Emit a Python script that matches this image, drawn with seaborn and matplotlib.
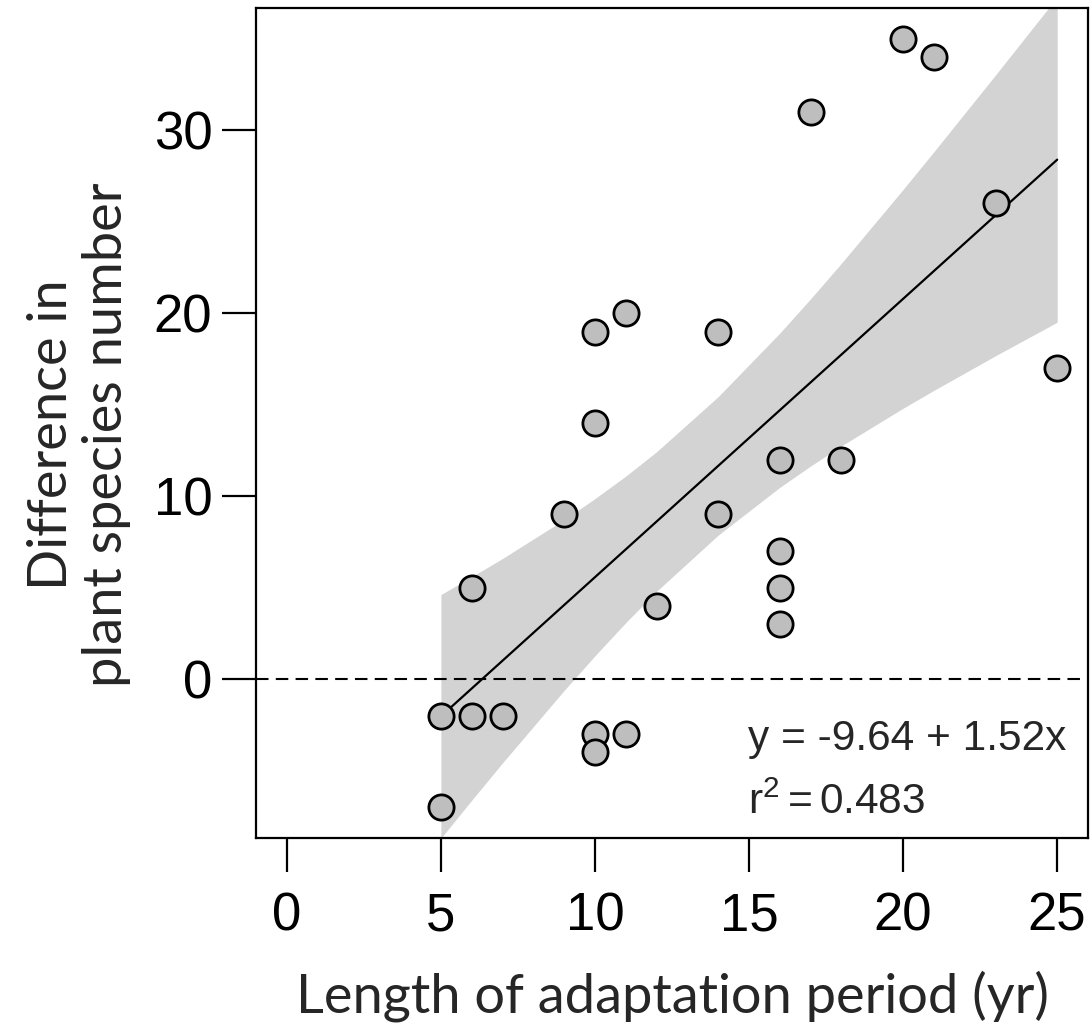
import matplotlib
matplotlib.use('Agg')
import matplotlib.pyplot as plt
import numpy as np
import pandas as pd
import seaborn as sns

# adaptation period (yr) and difference in plant species number
period = [5, 5, 6, 6, 7, 9, 10, 10, 10, 10, 11, 11, 12,
          14, 14, 16, 16, 16, 16, 17, 18, 20, 21, 23, 25]
diff = [-2, -7, 5, -2, -2, 9, 19, 14, -3, -4, 20, -3, 4,
        19, 9, 12, 7, 5, 3, 31, 12, 35, 34, 26, 17]
x_ticks = [0, 5, 10, 15, 20, 25]
y_ticks = [0, 10, 20, 30]

df = pd.DataFrame({'period': period, 'diff': diff})

# analytic 95% confidence band of the linear fit, evaluated at the observed x values
x = np.array(period, float)
y = np.array(diff, float)
n = len(x)
slope, intercept = np.polyfit(x, y, 1)
resid = y - (intercept + slope * x)
s = np.sqrt(np.sum(resid ** 2) / (n - 2))
sxx = np.sum((x - x.mean()) ** 2)
xg = np.unique(x)
fit = intercept + slope * xg
se = s * np.sqrt(1 / n + (xg - x.mean()) ** 2 / sxx)
t975 = 2.0687  # t quantile, 23 df

sns.set_style('white')
plt.rcParams['font.family'] = ['Liberation Sans', 'DejaVu Sans']
plt.rcParams['mathtext.fontset'] = 'custom'
plt.rcParams['mathtext.rm'] = 'Liberation Sans'
plt.rcParams['mathtext.it'] = 'Liberation Sans'

fig = plt.figure(figsize=(10.91, 10.31), dpi=100)
ax = fig.add_axes([256 / 1091, 1 - 838 / 1031, 832 / 1091, 830 / 1031])

ax.fill_between(xg, fit - t975 * se, fit + t975 * se, color='#d3d3d3', linewidth=0, zorder=0.5)
ax.axhline(0, color='black', linestyle=(0, (6, 3.5)), linewidth=1.5, zorder=1)

sns.regplot(x='period', y='diff', data=df, ax=ax, ci=None,
            scatter=False, truncate=True,
            line_kws={'color': 'black', 'linewidth': 1.6, 'zorder': 2})

sns.scatterplot(x='period', y='diff', data=df, ax=ax, s=330, color='#bebebe',
                edgecolor='black', linewidth=2, zorder=3, legend=False)

ax.set_xlim(-1, 26)
ax.set_ylim(-8.68, 36.68)
ax.set_xticks(x_ticks)
ax.set_yticks(y_ticks)
ax.tick_params(axis='both', direction='out', length=24.5, width=1.6,
               labelsize=38, color='black', labelcolor='black')
ax.tick_params(axis='x', pad=14)
ax.tick_params(axis='y', pad=7)
ax.tick_params(bottom=True, left=True)
for sp in ax.spines.values():
    sp.set_visible(True)
    sp.set_color('black')
    sp.set_linewidth(1.6)

ax.set_xlabel('Length of adaptation period (yr)', fontsize=39, family=['Lato', 'DejaVu Sans'],
              labelpad=21)
ax.set_ylabel('Difference in\nplant species number', fontsize=39, family=['Lato', 'DejaVu Sans'],
              labelpad=16, linespacing=1.15)
ax.yaxis.label.set_y(0.486)

ax.text(0.591, 0.106, 'y = -9.64 + 1.52x', transform=ax.transAxes, fontsize=30.5, ha='left',
        va='baseline')
ax.text(0.591, 0.029, r'$\mathrm{r}^2 = \mathrm{0.483}$', transform=ax.transAxes, fontsize=30.5,
        ha='left', va='baseline')

ax.grid(False)
plt.savefig('out.png', dpi=100)
